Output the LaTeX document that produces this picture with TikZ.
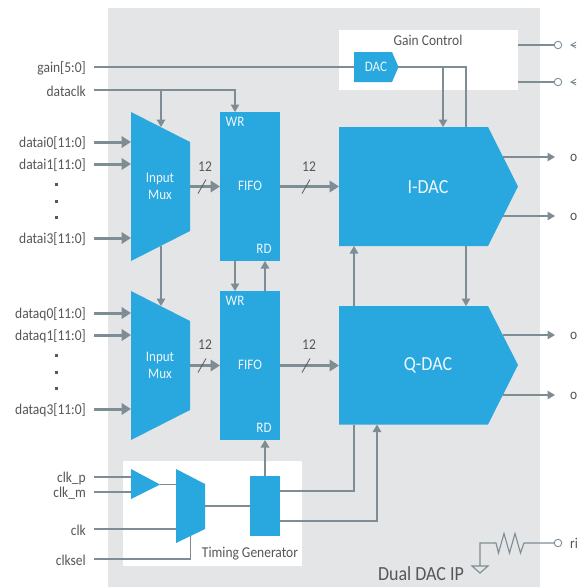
\documentclass[tikz,border=0pt]{standalone}
\usepackage{fontspec}
\setmainfont[FakeStretch=0.9]{Carlito}
\usetikzlibrary{arrows.meta,calc}
\definecolor{bggrey}{HTML}{E4E5E7}
\definecolor{blockblue}{HTML}{29A7DF}
\definecolor{wire}{HTML}{7E8C93}
\definecolor{txtgrey}{HTML}{555759}
\tikzset{
  lbl/.style={font=\fontsize{15}{15}\selectfont,text=txtgrey,inner sep=0pt},
  inlbl/.style={font=\fontsize{14.5}{16}\selectfont,text=white!92!blockblue,inner sep=0pt,align=center},
  dacl/.style={font=\fontsize{20}{20}\selectfont,text=white!92!blockblue,inner sep=0pt},
  blockfill/.style={fill=blockblue,draw=none},
  blockbox/.style={fill=blockblue,draw=none,inner sep=0pt,outer sep=0pt},
  thinw/.style={draw=wire,line width=1.3pt},
  thinar/.style={thinw,-{Triangle[length=7.5pt,width=8.5pt]}},
  thickw/.style={draw=wire,line width=3pt},
  thickar/.style={thickw,-{Triangle[length=9.5pt,width=11.5pt]}},
  port/.style={circle,draw=wire,fill=white,line width=0.9pt,minimum size=7.5pt,inner sep=0pt},
  pt/.style={fill=txtgrey,inner sep=0pt,minimum size=3pt}
}
\newcommand{\lowered}[1]{\raisebox{0pt}[\dimexpr\height+2pt\relax]{#1}}
\begin{document}
\begin{tikzpicture}[x=1pt,y=-1pt]
\useasboundingbox (0,0) rectangle (585,587);
\fill[white] (0,0) rectangle (585,587);
\fill[bggrey] (108,8) rectangle (540,587);
\fill[white] (339,30) rectangle (518,90);
\fill[white] (123,461) rectangle (302,566);

% blocks
\fill[blockfill] (339,127) -- (488,127) -- (518,186.5) -- (488,246) -- (339,246) -- cycle;
\fill[blockfill] (339,306) -- (488,306) -- (518,365) -- (488,424.5) -- (339,424.5) -- cycle;
\fill[blockfill] (354,52) -- (392,52) -- (398.5,67) -- (392,82) -- (354,82) -- cycle;
\fill[blockfill] (131,112) -- (190,142) -- (190,231) -- (131,261) -- cycle;
\fill[blockfill] (131,291) -- (190,321) -- (190,410) -- (131,440) -- cycle;
\fill[blockfill] (131,469) -- (160,484.5) -- (131,499) -- cycle;
\fill[blockfill] (176,469) -- (205,484) -- (205,529) -- (176,543) -- cycle;
\node[blockbox,minimum width=60pt,minimum height=149pt] (fifoI) at (250,186.5) {};
\node[blockbox,minimum width=60pt,minimum height=149pt] (fifoQ) at (250,365.5) {};
\node[blockbox,minimum width=30pt,minimum height=60pt] (timing) at (265,506) {};

% block texts
\node[dacl] (idac) at (428,187) {I-DAC};
\node[dacl] (qdac) at (428,365) {Q-DAC};
\node[inlbl] (dac) at (376,67) {DAC};
\node[inlbl] (muxI) at (160,186) {Input\\[1pt]Mux};
\node[inlbl] (muxQ) at (160,365) {Input\\[1pt]Mux};
\node[inlbl] at (250,186) {FIFO};
\node[inlbl] at (250,365) {FIFO};
\node[inlbl] at (235,122) {WR};
\node[inlbl] at (264,249) {RD};
\node[inlbl] at (235,301) {WR};
\node[inlbl] at (264,428) {RD};
\node[lbl] (gainctl) at (428,40) {Gain Control};
\node[lbl] (timgen) at (250,554) {Timing Generator};
\node[lbl,font=\fontsize{20}{20}\selectfont] (dual) at (421,574) {Dual DAC IP};
\node[lbl] (n1) at (205,167) {12};
\node[lbl] (n2) at (309,167) {12};
\node[lbl] (n3) at (205,345) {12};
\node[lbl] (n4) at (309,345) {12};

% left labels
\foreach \n/\y/\t in {gain/67/{gain[5:0]},dclk/90/dataclk,
  di0/142/{datai0[11:0]},di1/164/{datai1[11:0]},di3/238/{datai3[11:0]},
  dq0/313/{dataq0[11:0]},dq1/335/{dataq1[11:0]},dq3/409/{dataq3[11:0]},
  clkp/477/clk\_p,clkm/492/clk\_m,clk/529/clk,clksel/559/clksel}
  {\node[lbl,anchor=east] (\n) at (86,\y) {\lowered{\t}};}
\foreach \y in {184,201,217,355,372,388} \node[pt] at (56.5,\y) {};

% named ends
\foreach \n/\x/\y in {
 mIi0/131/142,mIi1/131/164,mIi3/131/238,mQi0/131/313,mQi1/131/335,mQi3/131/409,
 mIo/190/186.5,mQo/190/365.5,fIi/220/186.5,fQi/220/365.5,fIo/280/186.5,fQo/280/365.5,
 iIn/339/186.5,qIn/339/365.5,
 mItop/161/127,mIbot/161/246,mQtop/161/306,
 fIwr/235/112,fIbotA/235/261,fIbotB/265/261,fQtopA/235/291,fQtopB/265/291,fQbot/265/440,
 dacIn/354/67,dacOut/398/67,dacA/443/67,dacB/466/67,iTopA/443/127,iTopB/466/127,
 iBotA/354/246,iBotB/466/246,qTopA/354/306,qTopB/466/306,qBotA/354/424.5,qBotB/377/424.5,
 corA/354/491,corB/377/521,tA/280/491,tB/280/521,tTop/265/476,
 triA/131/477,triB/131/492,triOut/160/484.5,muxIn1/176/484.5,muxIn2/176/529,
 muxOut/205/506,tIn/250/506,muxBot/190.5/536,corS/190.5/559,
 gcA/518/45,gcB/518/82,
 iOa/503/157,iOb/503/216,qOa/503/335,qOb/503/395,
 iOaE/555/157,iObE/555/216,qOaE/555/335,qObE/555/395,
 gnd/480/566,rStart/480/543,rL/496/543,rR/524/543}
 {\coordinate (\n) at (\x,\y);}

% data thick
\foreach \a/\b in {di0/mIi0,di1/mIi1,di3/mIi3,dq0/mQi0,dq1/mQi1,dq3/mQi3}
  \draw[thickar] ([xshift=8pt]\a.east) -- (\b);
\draw[thickar] (mIo) -- (fIi);
\draw[thickar] (mQo) -- (fQi);
\draw[thickar] (fIo) -- (iIn);
\draw[thickar] (fQo) -- (qIn);
% bus slashes
\foreach \c in {205,309}{
  \draw[draw=txtgrey,line width=0.8pt] (\c-7,193.5) -- (\c+1,179.5);
  \draw[draw=txtgrey,line width=0.8pt] (\c-7,372.5) -- (\c+1,358.5);
}

% thin wires
\draw[thinw] ([xshift=8pt]gain.east) -- (dacIn);
\draw[thinar] ([xshift=8pt]dclk.east) -| (fIwr);
\draw[thinar] (mItop |- dclk) -- (mItop);
\draw[thinar] (mIbot) -- (mQtop);
\draw[thinar] (fIbotA) -- (fQtopA);
\draw[thinar] (fQtopB) -- (fIbotB);
\draw[thinar] (tTop) -- (fQbot);
\draw[thinw] (dacOut) -- (dacB) -- (iTopB);
\draw[thinar] (dacA) -- (iTopA);
\draw[thinar] (iBotB) -- (qTopB);
\draw[thinar] (qTopA) -- (iBotA);
\draw[thinw] (tA) -| (qBotA);
\draw[thinar] (tB) -| (qBotB);
\draw[thinw] ([xshift=8pt]clkp.east) -- (triA);
\draw[thinw] ([xshift=8pt]clkm.east) -- (triB);
\draw[thinw] (triOut) -- (muxIn1);
\draw[thinw] ([xshift=8pt]clk.east) -- (muxIn2);
\draw[thinw] (muxOut) -- (tIn);
\draw[thinw] ([xshift=8pt]clksel.east) -- (corS) -- (muxBot);

% outputs
\foreach \a/\b in {iOa/iOaE,iOb/iObE,qOa/qOaE,qOb/qObE}
  \draw[thinar] (\a) -- (\b);
\begin{scope}
\clip (0,0) rectangle (576,587);
\foreach \y/\n in {158/a,217/b,336/c,396/d}
  \node[lbl,anchor=west] (out\n) at (570,\y) {o};
\node[lbl,anchor=west] (rilbl) at (570,543) {ri};
\foreach \y in {45,82}{
  \draw[draw=wire,line width=0.9pt] (577,\y-3.5) -- (571,\y) -- (577,\y+3.5);
  \draw[draw=wire,line width=0.9pt] (571,\y) -- (577,\y);
}
\end{scope}
\node[port] (pA) at (558,45) {};
\node[port] (pB) at (558,82) {};
\node[port] (pR) at (558,543) {};
\draw[thinw] (gcA) -- (pA);
\draw[thinw] (gcB) -- (pB);

% resistor + ground
\draw[draw=wire,line width=1.1pt,line join=miter] (pR) -- (rR) -- (520.5,553) -- (515,533.5) -- (509.5,553) -- (504,533.5) -- (498.5,553) -- (496,543) -- (rStart) -- (gnd);
\draw[draw=wire,line width=1.1pt,fill=none] (472,566) -- (488,566) -- (480,573) -- cycle;
\end{tikzpicture}
\end{document}
